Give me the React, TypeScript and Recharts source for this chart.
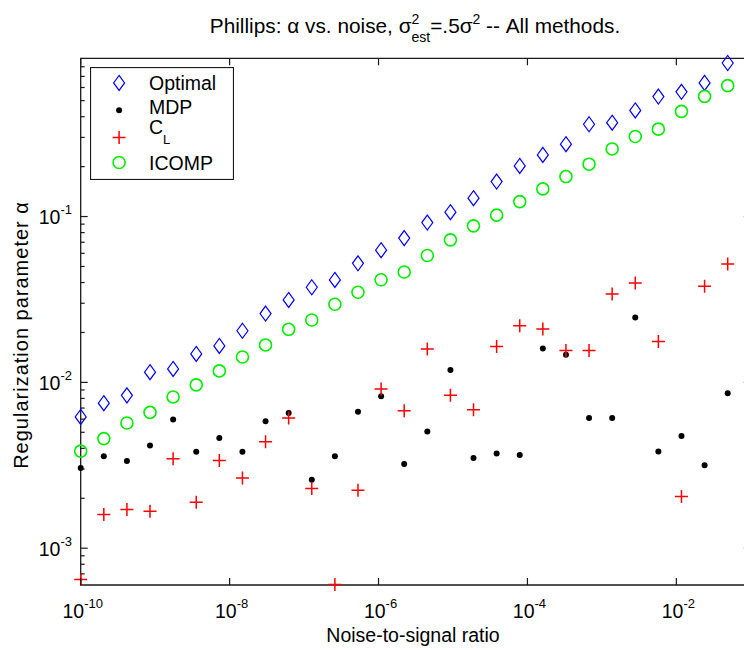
import React from 'react';
import { ScatterChart, Scatter, XAxis, YAxis, ReferenceArea, Legend } from 'recharts';

// Noise-to-signal ratio (30 log-spaced samples from 1e-10 to 1e-1)
const noiseRatio = [
  1.0e-10, 2.043e-10, 4.175e-10, 8.532e-10, 1.743e-9, 3.562e-9, 7.279e-9, 1.487e-8, 3.039e-8, 6.21e-8,
  1.269e-7, 2.593e-7, 5.298e-7, 1.083e-6, 2.212e-6, 4.52e-6, 9.237e-6, 1.887e-5, 3.857e-5, 7.88e-5,
  1.61e-4, 3.29e-4, 6.723e-4, 1.374e-3, 2.807e-3, 5.736e-3, 1.172e-2, 2.395e-2, 4.894e-2, 1.0e-1,
];

const optimal = [
  0.00619, 0.00749, 0.00835, 0.01152, 0.01205, 0.01485, 0.01659, 0.02048, 0.02601, 0.03141,
  0.03746, 0.04146, 0.05225, 0.06266, 0.07411, 0.092, 0.1063, 0.1291, 0.1625, 0.202,
  0.2354, 0.273, 0.3603, 0.3679, 0.4364, 0.5291, 0.5653, 0.6397, 0.843, 0.9,
];

const mdp = [
  0.00305, 0.00358, 0.00336, 0.00416, 0.00598, 0.00382, 0.00462, 0.00382, 0.00582, 0.00654,
  0.00259, 0.00358, 0.00664, 0.00824, 0.00322, 0.00505, 0.01188, 0.0035, 0.00373, 0.00365,
  0.01603, 0.01469, 0.0061, 0.0061, 0.0246, 0.00383, 0.00475, 0.00316, 0.00859, 0.0098,
];

const cl = [
  0.000648, 0.001596, 0.00171, 0.00167, 0.00346, 0.00189, 0.00338, 0.00265, 0.00438, 0.0061,
  0.00229, 0.000605, 0.00224, 0.00912, 0.00675, 0.01589, 0.00835, 0.00684, 0.01648, 0.02196,
  0.02098, 0.01559, 0.01559, 0.03412, 0.03981, 0.01764, 0.00205, 0.03802, 0.05168, 0.06,
];

const icomp = [
  0.00385, 0.00458, 0.00569, 0.00659, 0.00817, 0.00966, 0.01173, 0.01422, 0.01682, 0.02089,
  0.02376, 0.02959, 0.03494, 0.04158, 0.04626, 0.05823, 0.07237, 0.0879, 0.102, 0.1231,
  0.1468, 0.1742, 0.2069, 0.2557, 0.3037, 0.3366, 0.4309, 0.5305, 0.6155, 0.745,
];

const xTicks = [1e-10, 1e-8, 1e-6, 1e-4, 1e-2];
const yTicks = [
  0.0007, 0.0008, 0.0009, 0.001, 0.002, 0.003, 0.004, 0.005, 0.006, 0.007, 0.008, 0.009,
  0.01, 0.02, 0.03, 0.04, 0.05, 0.06, 0.07, 0.08, 0.09,
  0.1, 0.2, 0.3, 0.4, 0.5, 0.6, 0.7, 0.8,
];
const xDomain = [1e-10, 1e-1];
const yDomain = [0.0006, 0.9];

const seriesNames = ['Optimal', 'MDP', 'C', 'ICOMP'];

const W = 760;
const H = 650;
const M = { top: 58.3, right: 9.2, bottom: 25, left: 30.7 };
const X_AXIS_H = 40;
const Y_AXIS_W = 50;
const PL = M.left + Y_AXIS_W;
const PR = W - M.right;
const PT = M.top;
const PB = H - M.bottom - X_AXIS_H;

const FONT = '"Liberation Sans", Arial, Helvetica, sans-serif';
const AXIS = '#1a1a1a';
const BLUE = '#0000ff';
const RED = '#ff0000';
const GREEN = '#00ee00';

const toSeries = (ys: number[]) => noiseRatio.map((x, i) => ({ x, y: ys[i] }));
const optimalData = toSeries(optimal);
const mdpData = toSeries(mdp);
const clData = toSeries(cl);
const icompData = toSeries(icomp);

const isMajor = (v: number) => Math.abs(Math.log10(v) - Math.round(Math.log10(v))) < 1e-6;

const Diamond = ({ cx, cy }: any) => (
  <path d={`M${cx},${cy - 7.5} L${cx + 5.5},${cy} L${cx},${cy + 7.5} L${cx - 5.5},${cy} Z`} fill="none" stroke={BLUE} strokeWidth={1.2} />
);
const Dot = ({ cx, cy }: any) => <circle cx={cx} cy={cy} r={3} fill="#000" />;
const Plus = ({ cx, cy }: any) => (
  <path d={`M${cx - 6.5},${cy} L${cx + 6.5},${cy} M${cx},${cy - 6.5} L${cx},${cy + 6.5}`} stroke={RED} strokeWidth={1.5} />
);
const Ring = ({ cx, cy }: any) => <circle cx={cx} cy={cy} r={6} fill="none" stroke={GREEN} strokeWidth={1.6} />;

const renderXTick = (props: any) => {
  const { x, payload } = props;
  const e = Math.round(Math.log10(payload.value));
  return (
    <g>
      <line x1={x} y1={PB} x2={x} y2={PB - 7} stroke={AXIS} strokeWidth={1.2} />
      <line x1={x} y1={PT} x2={x} y2={PT + 7} stroke={AXIS} strokeWidth={1.2} />
      <text x={x + 2} y={PB + 33} textAnchor="middle" fontFamily={FONT} fontSize={19.5} fill="#000">
        10
        <tspan dy={-10} fontSize={13}>{String(e)}</tspan>
      </text>
    </g>
  );
};

const renderYTick = (props: any) => {
  const { y, payload } = props;
  const v = payload.value;
  const major = isMajor(v);
  const len = major ? 7 : 4;
  const e = Math.round(Math.log10(v));
  return (
    <g>
      <line x1={PL} y1={y} x2={PL + len} y2={y} stroke={AXIS} strokeWidth={1.2} />
      <line x1={PR} y1={y} x2={PR - len} y2={y} stroke={AXIS} strokeWidth={1.2} />
      {major && (
        <text x={72} y={y + 7.5} textAnchor="end" fontFamily={FONT} fontSize={19.5} fill="#000">
          10
          <tspan dy={-10} fontSize={13}>{String(e)}</tspan>
        </text>
      )}
    </g>
  );
};

const LegendBox = () => (
  <svg width={144} height={113} style={{ display: 'block' }}>
    <rect x={0.5} y={0.5} width={143} height={112} fill="#fff" stroke={AXIS} strokeWidth={1.2} />
    <Diamond cx={29.1} cy={15.9} />
    <Dot cx={29.1} cy={43.2} />
    <Plus cx={29.1} cy={70.5} />
    <Ring cx={29.1} cy={95.5} />
    <g fontFamily={FONT} fontSize={19.5} fill="#000">
      <text x={59} y={22.5}>{seriesNames[0]}</text>
      <text x={59} y={46.5}>{seriesNames[1]}</text>
      <text x={59} y={67.2}>
        {seriesNames[2]}
        <tspan dy={10} fontSize={13}>L</tspan>
      </text>
      <text x={59} y={102.5}>{seriesNames[3]}</text>
    </g>
  </svg>
);

export default function App() {
  return (
    <div style={{ position: 'absolute', left: 0, top: 0, width: 744, height: 650, overflow: 'hidden', background: '#fff' }}>
      <ScatterChart width={W} height={H} margin={M}>
        <XAxis
          type="number"
          dataKey="x"
          scale="log"
          domain={xDomain}
          ticks={xTicks}
          interval={0}
          height={X_AXIS_H}
          axisLine={false}
          tickLine={false}
          tick={renderXTick}
        />
        <YAxis
          type="number"
          dataKey="y"
          scale="log"
          domain={yDomain}
          ticks={yTicks}
          interval={0}
          width={Y_AXIS_W}
          axisLine={false}
          tickLine={false}
          tick={renderYTick}
        />
        <ReferenceArea x1={xDomain[0]} x2={xDomain[1]} y1={yDomain[0]} y2={yDomain[1]} fill="none" stroke={AXIS} strokeWidth={1.3} fillOpacity={0} />
        <Scatter name="Optimal" data={optimalData} shape={<Diamond />} isAnimationActive={false} />
        <Scatter name="MDP" data={mdpData} shape={<Dot />} isAnimationActive={false} />
        <Scatter name="CL" data={clData} shape={<Plus />} isAnimationActive={false} />
        <Scatter name="ICOMP" data={icompData} shape={<Ring />} isAnimationActive={false} />
        <Legend
          layout="vertical"
          align="center"
          verticalAlign="middle"
          content={() => <LegendBox />}
          wrapperStyle={{ position: 'absolute', left: 90.2, top: 66.8, width: 144, height: 113, margin: 0, padding: 0 }}
        />
        <text x={415} y={33} textAnchor="middle" fontFamily={FONT} fontSize={20.8} fill="#000">
          {'Phillips: α vs. noise, σ'}
          <tspan dy={-9} fontSize={14}>2</tspan>
          <tspan dx={-7.8} dy={18} fontSize={14}>est</tspan>
          <tspan dy={-9}>{'=.5σ'}</tspan>
          <tspan dy={-9} fontSize={14}>2</tspan>
          <tspan dy={9}>{' -- All methods.'}</tspan>
        </text>
        <text x={413} y={642} textAnchor="middle" fontFamily={FONT} fontSize={19.5} fill="#000">
          Noise-to-signal ratio
        </text>
        <text x={27.5} y={335} transform="rotate(-90 27.5 335)" textAnchor="middle" fontFamily={FONT} fontSize={20} letterSpacing={1} fill="#000">
          {'Regularization parameter α'}
        </text>
      </ScatterChart>
    </div>
  );
}
